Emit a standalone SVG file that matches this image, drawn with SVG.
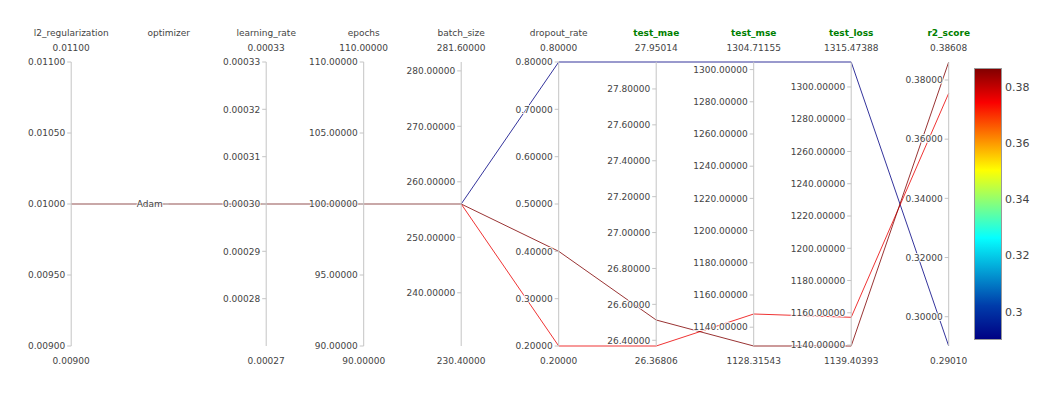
<svg xmlns="http://www.w3.org/2000/svg" width="1052" height="412" viewBox="0 0 1052 412">
<style>
text{font-family:"DejaVu Sans",Verdana,sans-serif;fill:#444;font-size:9px}
.title{text-anchor:middle}
.key{text-anchor:middle;font-weight:bold;fill:#008000}
.rng{text-anchor:middle}
.tk{text-anchor:end;stroke:#fff;stroke-width:2;stroke-opacity:0.85;paint-order:stroke;stroke-linejoin:round}
.ax{stroke:#c4c4c4;stroke-width:1;fill:none}
.tm{stroke:#c4c4c4;stroke-width:1}
.ln{fill:none;stroke-width:1;stroke-opacity:0.8}
.cb{font-size:11px}
</style>
<defs>
<linearGradient id="jet" x1="0" y1="0" x2="0" y2="1">
<stop offset="0" stop-color="rgb(128,0,0)"/>
<stop offset="0.125" stop-color="rgb(250,0,0)"/>
<stop offset="0.375" stop-color="rgb(255,255,0)"/>
<stop offset="0.625" stop-color="rgb(5,255,255)"/>
<stop offset="0.875" stop-color="rgb(0,60,170)"/>
<stop offset="1" stop-color="rgb(0,0,131)"/>
</linearGradient>
</defs>
<rect width="1052" height="412" fill="#fff"/>

<g id="connectors">
<line x1="71.2" y1="204" x2="461.2" y2="204" stroke="#c9a8a8" stroke-width="2"/>
<polyline class="ln" stroke="rgb(0,0,131)" points="461.2,204 558.7,62 656.2,62 753.7,62 851.2,62 948.7,346"/>
<polyline class="ln" stroke="rgb(235,0,0)" points="461.2,204 558.7,346 656.2,346 753.7,314 851.2,317.3 948.7,93.3"/>
<polyline class="ln" stroke="rgb(128,0,0)" points="461.2,204 558.7,251.3 656.2,320 753.7,346 851.2,346 948.7,62"/>
</g>

<g id="axis-l2_regularization">
<line class="ax" x1="71.2" y1="62" x2="71.2" y2="346"/>
<text class="title" x="71.2" y="35.5">l2_regularization</text>
<text class="rng" x="71.2" y="51">0.01100</text>
<text class="rng" x="71.2" y="364">0.00900</text>
<path class="tm" d="M67.2 62H71.2M67.2 133H71.2M67.2 204H71.2M67.2 275H71.2M67.2 346H71.2"/>
<text class="tk" x="65.2" y="65.2">0.01100</text>
<text class="tk" x="65.2" y="136.2">0.01050</text>
<text class="tk" x="65.2" y="207.2">0.01000</text>
<text class="tk" x="65.2" y="278.2">0.00950</text>
<text class="tk" x="65.2" y="349.2">0.00900</text>
</g>

<g id="axis-optimizer">
<text class="title" x="168.7" y="35.5">optimizer</text>
<path class="tm" d="M164.7 204H168.7"/>
<text class="tk" x="162.7" y="207.2">Adam</text>
</g>

<g id="axis-learning_rate">
<line class="ax" x1="266.2" y1="62" x2="266.2" y2="346"/>
<text class="title" x="266.2" y="35.5">learning_rate</text>
<text class="rng" x="266.2" y="51">0.00033</text>
<text class="rng" x="266.2" y="364">0.00027</text>
<path class="tm" d="M262.2 62H266.2M262.2 109.3H266.2M262.2 156.7H266.2M262.2 204H266.2M262.2 251.3H266.2M262.2 298.7H266.2"/>
<text class="tk" x="260.2" y="65.2">0.00033</text>
<text class="tk" x="260.2" y="112.5">0.00032</text>
<text class="tk" x="260.2" y="159.9">0.00031</text>
<text class="tk" x="260.2" y="207.2">0.00030</text>
<text class="tk" x="260.2" y="254.5">0.00029</text>
<text class="tk" x="260.2" y="301.9">0.00028</text>
</g>

<g id="axis-epochs">
<line class="ax" x1="363.7" y1="62" x2="363.7" y2="346"/>
<text class="title" x="363.7" y="35.5">epochs</text>
<text class="rng" x="363.7" y="51">110.00000</text>
<text class="rng" x="363.7" y="364">90.00000</text>
<path class="tm" d="M359.7 62H363.7M359.7 133H363.7M359.7 204H363.7M359.7 275H363.7M359.7 346H363.7"/>
<text class="tk" x="357.7" y="65.2">110.00000</text>
<text class="tk" x="357.7" y="136.2">105.00000</text>
<text class="tk" x="357.7" y="207.2">100.00000</text>
<text class="tk" x="357.7" y="278.2">95.00000</text>
<text class="tk" x="357.7" y="349.2">90.00000</text>
</g>

<g id="axis-batch_size">
<line class="ax" x1="461.2" y1="62" x2="461.2" y2="346"/>
<text class="title" x="461.2" y="35.5">batch_size</text>
<text class="rng" x="461.2" y="51">281.60000</text>
<text class="rng" x="461.2" y="364">230.40000</text>
<path class="tm" d="M457.2 70.9H461.2M457.2 126.3H461.2M457.2 181.8H461.2M457.2 237.3H461.2M457.2 292.8H461.2"/>
<text class="tk" x="455.2" y="74.1">280.00000</text>
<text class="tk" x="455.2" y="129.5">270.00000</text>
<text class="tk" x="455.2" y="185">260.00000</text>
<text class="tk" x="455.2" y="240.5">250.00000</text>
<text class="tk" x="455.2" y="296">240.00000</text>
</g>

<g id="axis-dropout_rate">
<line class="ax" x1="558.7" y1="62" x2="558.7" y2="346"/>
<text class="title" x="558.7" y="35.5">dropout_rate</text>
<text class="rng" x="558.7" y="51">0.80000</text>
<text class="rng" x="558.7" y="364">0.20000</text>
<path class="tm" d="M554.7 62H558.7M554.7 109.3H558.7M554.7 156.7H558.7M554.7 204H558.7M554.7 251.3H558.7M554.7 298.7H558.7M554.7 346H558.7"/>
<text class="tk" x="552.7" y="65.2">0.80000</text>
<text class="tk" x="552.7" y="112.5">0.70000</text>
<text class="tk" x="552.7" y="159.9">0.60000</text>
<text class="tk" x="552.7" y="207.2">0.50000</text>
<text class="tk" x="552.7" y="254.5">0.40000</text>
<text class="tk" x="552.7" y="301.9">0.30000</text>
<text class="tk" x="552.7" y="349.2">0.20000</text>
</g>

<g id="axis-test_mae">
<line class="ax" x1="656.2" y1="62" x2="656.2" y2="346"/>
<text class="key" x="656.2" y="35.5">test_mae</text>
<text class="rng" x="656.2" y="51">27.95014</text>
<text class="rng" x="656.2" y="364">26.36806</text>
<path class="tm" d="M652.2 88.95H656.2M652.2 124.85H656.2M652.2 160.76H656.2M652.2 196.66H656.2M652.2 232.56H656.2M652.2 268.46H656.2M652.2 304.36H656.2M652.2 340.27H656.2"/>
<text class="tk" x="650.2" y="92.2">27.80000</text>
<text class="tk" x="650.2" y="128.1">27.60000</text>
<text class="tk" x="650.2" y="164">27.40000</text>
<text class="tk" x="650.2" y="199.9">27.20000</text>
<text class="tk" x="650.2" y="235.8">27.00000</text>
<text class="tk" x="650.2" y="271.7">26.80000</text>
<text class="tk" x="650.2" y="307.6">26.60000</text>
<text class="tk" x="650.2" y="343.5">26.40000</text>
</g>

<g id="axis-test_mse">
<line class="ax" x1="753.7" y1="62" x2="753.7" y2="346"/>
<text class="key" x="753.7" y="35.5">test_mse</text>
<text class="rng" x="753.7" y="51">1304.71155</text>
<text class="rng" x="753.7" y="364">1128.31543</text>
<path class="tm" d="M749.7 69.59H753.7M749.7 101.79H753.7M749.7 133.99H753.7M749.7 166.19H753.7M749.7 198.39H753.7M749.7 230.59H753.7M749.7 262.79H753.7M749.7 294.99H753.7M749.7 327.19H753.7"/>
<text class="tk" x="747.7" y="72.8">1300.00000</text>
<text class="tk" x="747.7" y="105">1280.00000</text>
<text class="tk" x="747.7" y="137.2">1260.00000</text>
<text class="tk" x="747.7" y="169.4">1240.00000</text>
<text class="tk" x="747.7" y="201.6">1220.00000</text>
<text class="tk" x="747.7" y="233.8">1200.00000</text>
<text class="tk" x="747.7" y="266">1180.00000</text>
<text class="tk" x="747.7" y="298.2">1160.00000</text>
<text class="tk" x="747.7" y="330.4">1140.00000</text>
</g>

<g id="axis-test_loss">
<line class="ax" x1="851.2" y1="62" x2="851.2" y2="346"/>
<text class="key" x="851.2" y="35.5">test_loss</text>
<text class="rng" x="851.2" y="51">1315.47388</text>
<text class="rng" x="851.2" y="364">1139.40393</text>
<path class="tm" d="M847.2 86.96H851.2M847.2 119.22H851.2M847.2 151.48H851.2M847.2 183.74H851.2M847.2 216H851.2M847.2 248.26H851.2M847.2 280.52H851.2M847.2 312.78H851.2M847.2 345.04H851.2"/>
<text class="tk" x="845.2" y="90.2">1300.00000</text>
<text class="tk" x="845.2" y="122.4">1280.00000</text>
<text class="tk" x="845.2" y="154.7">1260.00000</text>
<text class="tk" x="845.2" y="186.9">1240.00000</text>
<text class="tk" x="845.2" y="219.2">1220.00000</text>
<text class="tk" x="845.2" y="251.5">1200.00000</text>
<text class="tk" x="845.2" y="283.7">1180.00000</text>
<text class="tk" x="845.2" y="316">1160.00000</text>
<text class="tk" x="845.2" y="348.2">1140.00000</text>
</g>

<g id="axis-r2_score">
<line class="ax" x1="948.7" y1="62" x2="948.7" y2="346"/>
<text class="key" x="948.7" y="35.5">r2_score</text>
<text class="rng" x="948.7" y="51">0.38608</text>
<text class="rng" x="948.7" y="364">0.29010</text>
<path class="tm" d="M944.7 80H948.7M944.7 139.17H948.7M944.7 198.35H948.7M944.7 257.53H948.7M944.7 316.71H948.7"/>
<text class="tk" x="942.7" y="83.2">0.38000</text>
<text class="tk" x="942.7" y="142.4">0.36000</text>
<text class="tk" x="942.7" y="201.6">0.34000</text>
<text class="tk" x="942.7" y="260.7">0.32000</text>
<text class="tk" x="942.7" y="319.9">0.30000</text>
</g>

<g id="colorbar">
<rect x="974.5" y="68.5" width="27" height="271" fill="url(#jet)" stroke="#999" stroke-width="1"/>
<text class="cb" x="1005" y="90.7">0.38</text>
<text class="cb" x="1005" y="146.9">0.36</text>
<text class="cb" x="1005" y="203.2">0.34</text>
<text class="cb" x="1005" y="259.4">0.32</text>
<text class="cb" x="1005" y="315.7">0.3</text>
</g>
</svg>
